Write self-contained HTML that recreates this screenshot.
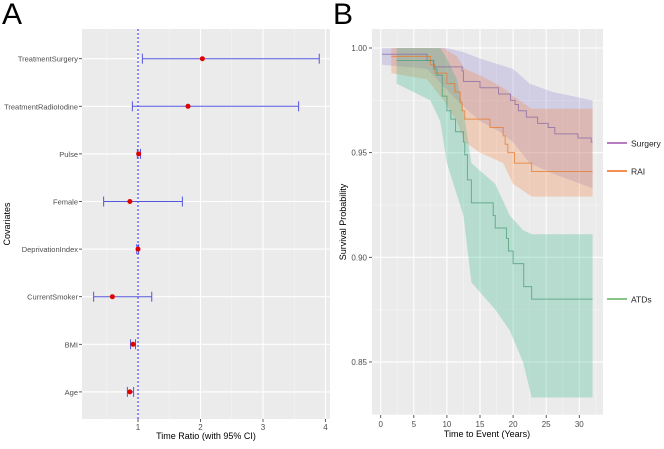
<!DOCTYPE html>
<html><head><meta charset="utf-8"><style>
html,body{margin:0;padding:0;background:#fff;}
svg text{font-family:"Liberation Sans",sans-serif;}
</style></head><body>
<svg id="fig" width="664" height="444" xmlns="http://www.w3.org/2000/svg">
<text x="2" y="24" font-size="30" fill="#000">A</text>
<text x="333" y="24" font-size="30" fill="#000">B</text>
<g id="pa"></g>
<g id="pb"></g>
</svg>
<script>
// ---- Panel A data ----
const covariates = ["TreatmentSurgery","TreatmentRadioIodine","Pulse","Female","DeprivationIndex","CurrentSmoker","BMI","Age"];
const estimates = [2.03,1.80,1.01,0.87,1.00,0.59,0.92,0.87];
const lowerCI = [1.07,0.91,0.99,0.45,0.98,0.29,0.88,0.83];
const upperCI = [3.90,3.57,1.04,1.71,1.01,1.22,0.96,0.93];
const xTicksA = [1,2,3,4];

// ---- Panel B data ----
const surgT = [0.2,7,8,12.3,12.5,15,17.8,19.6,20.3,20.8,22,23.7,25.3,26.3,29.8,31.8,32];
const surgS = [0.997,0.994,0.991,0.989,0.984,0.981,0.978,0.975,0.973,0.970,0.967,0.964,0.962,0.959,0.957,0.955,0.955];
const raiT = [1.6,7.5,8.2,10,11.2,12,12.3,12.7,16.5,18.5,18.8,19.2,20.2,22.8,32];
const raiS = [0.996,0.992,0.988,0.983,0.979,0.974,0.970,0.966,0.962,0.958,0.954,0.950,0.945,0.941,0.941];
const atdT = [2.4,8,8.5,9.3,10,10.6,11.3,12.5,12.7,13.1,13.7,17,17.3,19,19.3,20,21.6,22.8,32];
const atdS = [0.994,0.990,0.987,0.977,0.970,0.966,0.960,0.955,0.949,0.937,0.926,0.920,0.914,0.909,0.903,0.897,0.886,0.880,0.880];
const surgBandT = [0.2,7,10,12.5,15,18,20,22.5,26,32];
const surgUpper = [1.0,1.0,1.0,0.998,0.995,0.992,0.99,0.983,0.979,0.975];
const surgLower = [0.992,0.99,0.98,0.972,0.965,0.96,0.955,0.945,0.94,0.933];
const raiBandT = [1.6,7,9.5,11.5,12.7,15,18.5,20,22.8,32];
const raiUpper = [1.0,1.0,1.0,0.996,0.99,0.987,0.981,0.977,0.971,0.971];
const raiLower = [0.988,0.985,0.975,0.965,0.955,0.95,0.945,0.935,0.929,0.929];
const atdBandT = [2.4,7.5,9,10,11.5,12.5,13.7,17.3,19.5,21.5,22.8,32];
const atdUpper = [1.0,1.0,1.0,0.995,0.985,0.97,0.945,0.935,0.92,0.913,0.911,0.911];
const atdLower = [0.983,0.975,0.965,0.945,0.93,0.92,0.888,0.875,0.865,0.85,0.833,0.833];
const yTicksB = [0.85,0.90,0.95,1.00];
const xTicksB = [0,5,10,15,20,25,30];

const NS="http://www.w3.org/2000/svg";
function mk(parent,tag,attrs){const e=document.createElementNS(NS,tag);for(const k in attrs)e.setAttribute(k,attrs[k]);parent.appendChild(e);return e;}

// ===== Panel A =====
(function(){
const g=document.getElementById('pa');
const L=82,R=330,T=29,B=419;
const xA=v=>138+(v-1)*62.5;
const yA=i=>58.7+i*47.6;
const bg=mk(g,'rect',{x:L,y:T,width:R-L,height:B-T,fill:'#ebebeb'});


[0.5,1.5,2.5,3.5].forEach(v=>mk(g,'line',{x1:xA(v),x2:xA(v),y1:T,y2:B,stroke:'#f5f5f5','stroke-width':0.6}));
xTicksA.forEach(v=>{
  mk(g,'line',{x1:xA(v),x2:xA(v),y1:T,y2:B,stroke:'#fff','stroke-width':1.1});
  mk(g,'line',{x1:xA(v),x2:xA(v),y1:B,y2:B+3,stroke:'#333','stroke-width':0.8});
  const t=mk(g,'text',{x:xA(v),y:B+11,'font-size':8,fill:'#4d4d4d','text-anchor':'middle'});t.textContent=v;
  
  
});
covariates.forEach((c,i)=>{
  const y=yA(i);
  mk(g,'line',{x1:L,x2:R,y1:y,y2:y,stroke:'#fff','stroke-width':1.1});
  mk(g,'line',{x1:L-3,x2:L,y1:y,y2:y,stroke:'#333','stroke-width':0.8});
  const t=mk(g,'text',{x:L-4,y:y+3,'font-size':7.5,fill:'#4d4d4d','text-anchor':'end'});t.textContent=c;
  
  
});
mk(g,'line',{x1:xA(1),x2:xA(1),y1:T,y2:B,stroke:'#4a4aff','stroke-width':1.2,'stroke-dasharray':'2,2'});
covariates.forEach((c,i)=>{
  const y=yA(i);
  const eg=mk(g,'g',{});
  
  
  mk(eg,'line',{x1:xA(lowerCI[i]),x2:xA(upperCI[i]),y1:y,y2:y,stroke:'#5555dd','stroke-width':1});
  mk(eg,'line',{x1:xA(lowerCI[i]),x2:xA(lowerCI[i]),y1:y-5,y2:y+5,stroke:'#5555dd','stroke-width':1});
  mk(eg,'line',{x1:xA(upperCI[i]),x2:xA(upperCI[i]),y1:y-5,y2:y+5,stroke:'#5555dd','stroke-width':1});
  const p=mk(g,'circle',{cx:xA(estimates[i]),cy:y,r:2.5,fill:'#e00000'});
  
  
});
const xt=mk(g,'text',{x:206,y:439,'font-size':9,fill:'#000','text-anchor':'middle'});xt.textContent='Time Ratio (with 95% CI)';


const yt=mk(g,'text',{x:10,y:224,'font-size':9,fill:'#000','text-anchor':'middle',transform:'rotate(-90 10 224)'});yt.textContent='Covariates';


})();

// ===== Panel B =====
(function(){
const g=document.getElementById('pb');
const L=372,R=603,T=29,B=415;
const xB=t=>380.7+t*6.62;
const yB=s=>48+(1-s)*2093;
const bg=mk(g,'rect',{x:L,y:T,width:R-L,height:B-T,fill:'#ebebeb'});


[2.5,7.5,12.5,17.5,22.5,27.5,32.5].forEach(v=>mk(g,'line',{x1:xB(v),x2:xB(v),y1:T,y2:B,stroke:'#f5f5f5','stroke-width':0.6}));
[0.825,0.875,0.925,0.975].forEach(v=>mk(g,'line',{x1:L,x2:R,y1:yB(v),y2:yB(v),stroke:'#f5f5f5','stroke-width':0.6}));
xTicksB.forEach(v=>{
  mk(g,'line',{x1:xB(v),x2:xB(v),y1:T,y2:B,stroke:'#fff','stroke-width':1.1});
  mk(g,'line',{x1:xB(v),x2:xB(v),y1:B,y2:B+3,stroke:'#333','stroke-width':0.8});
  const t=mk(g,'text',{x:xB(v),y:B+12,'font-size':8,fill:'#4d4d4d','text-anchor':'middle'});t.textContent=v;
  
  
});
yTicksB.forEach(v=>{
  mk(g,'line',{x1:L,x2:R,y1:yB(v),y2:yB(v),stroke:'#fff','stroke-width':1.1});
  mk(g,'line',{x1:L-3,x2:L,y1:yB(v),y2:yB(v),stroke:'#333','stroke-width':0.8});
  const t=mk(g,'text',{x:L-5,y:yB(v)+3,'font-size':8,fill:'#4d4d4d','text-anchor':'end'});t.textContent=v.toFixed(2);
  
  
});
function band(T_,U,Lo,col,name){
  let d='M'+xB(T_[0])+','+yB(U[0]);
  for(let i=1;i<T_.length;i++)d+=' L'+xB(T_[i])+','+yB(U[i]);
  for(let i=T_.length-1;i>=0;i--)d+=' L'+xB(T_[i])+','+yB(Lo[i]);
  const p=mk(g,'path',{d:d+'Z',fill:col,'fill-opacity':0.28});
  
  
}
function step(T_,S,col,name){
  let d='M'+xB(T_[0])+','+yB(S[0]);
  for(let i=1;i<T_.length;i++){d+=' H'+xB(T_[i])+' V'+yB(S[i]);}
  const p=mk(g,'path',{d:d,fill:'none',stroke:col,'stroke-width':1,'stroke-opacity':0.75});
  
  
}
band(surgBandT,surgUpper,surgLower,'#8f86d0','surgery-ci-band');
band(raiBandT,raiUpper,raiLower,'#f5803a','rai-ci-band');
band(atdBandT,atdUpper,atdLower,'#2fb38a','atds-ci-band');
step(surgT,surgS,'#8a6aa8','surgery-line');
step(raiT,raiS,'#e8782a','rai-line');
step(atdT,atdS,'#4c9e78','atds-line');
const legend=[["Surgery","#a050b0",143],["RAI","#f06a1a",171],["ATDs","#60b060",299]];
legend.forEach(l=>{
  const lg=mk(g,'g',{});
  
  
  mk(lg,'line',{x1:607,x2:627,y1:l[2],y2:l[2],stroke:l[1],'stroke-width':1.5});
  const t=mk(lg,'text',{x:631,y:l[2]+3.5,'font-size':8.5,fill:'#222'});t.textContent=l[0];
});
const xt=mk(g,'text',{x:487,y:437,'font-size':9,fill:'#000','text-anchor':'middle'});xt.textContent='Time to Event (Years)';


const yt=mk(g,'text',{x:346,y:222,'font-size':9,fill:'#000','text-anchor':'middle',transform:'rotate(-90 346 222)'});yt.textContent='Survival Probability';


})();
</script>
</body></html>
